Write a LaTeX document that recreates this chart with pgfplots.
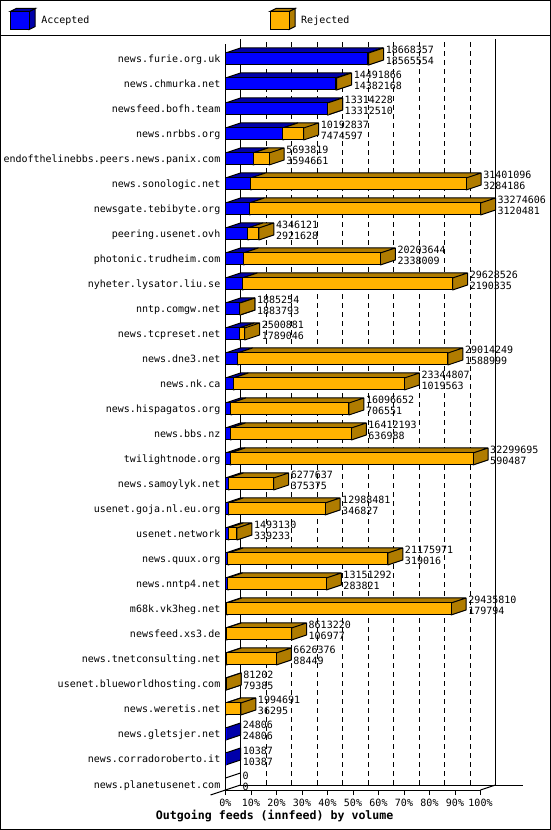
\documentclass[border=0pt]{standalone}
\usepackage{pgfplots}
\pgfplotsset{compat=1.18}
\usepackage{pgfplotstable}
\usepackage{fontspec}
\setmainfont{DejaVu Sans Mono}

\definecolor{accfront}{RGB}{0,0,255}
\definecolor{accshade}{RGB}{0,0,170}
\definecolor{rejfront}{RGB}{255,178,0}
\definecolor{rejshade}{RGB}{176,124,0}

\pgfplotstableread{
idx tot acc
29 18668357 18565554
28 14491866 14382168
27 13314228 13312510
26 10192837 7474597
25 5693819 3594661
24 31401096 3284186
23 33274606 3120481
22 4346121 2921628
21 20203644 2338009
20 29628526 2190335
19 1885254 1883793
18 2500881 1789046
17 29014249 1588999
16 23344807 1019563
15 16096652 706551
14 16412193 636988
13 32299695 590487
12 6277637 375375
11 12988481 346827
10 1493130 339233
9 21175971 319016
8 13151292 283821
7 29435810 179794
6 8613220 106977
5 6626376 88449
4 81202 79385
3 1994691 36295
2 24806 24806
1 10387 10387
0 0 0
}\feeds

\newdimen\tdL
\def\tdfront{accfront}\def\tdshade{accshade}
% a 3-D bar segment ending at the data point; its length (pt) is \seglen
\pgfdeclareplotmark{box3d}{%
  \pgfkeys{/pgf/fpu=true,/pgf/fpu/output format=fixed}%
  \pgfmathparse{\seglen}%
  \pgfkeys{/pgf/fpu=false}%
  \tdL=\pgfmathresult pt\relax
  \ifdim\tdL>0.0001pt
    \pgfsetlinewidth{1pt}\pgfsetstrokecolor{black}\pgfsetbeveljoin\pgfsetdash{}{0pt}%
    \pgfsetfillcolor{\tdshade}%
    \pgfpathmoveto{\pgfqpoint{-\tdL}{6pt}}%
    \pgfpathlineto{\pgfqpoint{0pt}{6pt}}%
    \pgfpathlineto{\pgfqpoint{15pt}{11pt}}%
    \pgfpathlineto{\pgfqpoint{\dimexpr15pt-\tdL\relax}{11pt}}%
    \pgfpathclose
    \pgfpathmoveto{\pgfqpoint{0pt}{-6pt}}%
    \pgfpathlineto{\pgfqpoint{15pt}{-1pt}}%
    \pgfpathlineto{\pgfqpoint{15pt}{11pt}}%
    \pgfpathlineto{\pgfqpoint{0pt}{6pt}}%
    \pgfpathclose
    \pgfusepath{fill,stroke}%
    \pgfsetfillcolor{\tdfront}%
    \pgfpathmoveto{\pgfqpoint{-\tdL}{-6pt}}%
    \pgfpathlineto{\pgfqpoint{0pt}{-6pt}}%
    \pgfpathlineto{\pgfqpoint{0pt}{6pt}}%
    \pgfpathlineto{\pgfqpoint{-\tdL}{6pt}}%
    \pgfpathclose
    \pgfusepath{fill,stroke}%
  \fi
}

\pgfplotsset{
  accleg/.style={legend image code/.code={%
    \filldraw[fill=accshade, draw=black, line width=1pt] (19pt,-9pt) -- (25pt,-6pt) -- (25pt,12pt) -- (19pt,9pt) -- cycle;
    \filldraw[fill=accshade, draw=black, line width=1pt] (0pt,9pt) -- (19pt,9pt) -- (25pt,12pt) -- (6pt,12pt) -- cycle;
    \filldraw[fill=accfront, draw=black, line width=1pt] (0pt,-9pt) -- (19pt,-9pt) -- (19pt,9pt) -- (0pt,9pt) -- cycle;
    \path (29pt,0pt);
  }},
  rejleg/.style={legend image code/.code={%
    \filldraw[fill=rejshade, draw=black, line width=1pt] (19pt,-9pt) -- (25pt,-6pt) -- (25pt,12pt) -- (19pt,9pt) -- cycle;
    \filldraw[fill=rejshade, draw=black, line width=1pt] (0pt,9pt) -- (19pt,9pt) -- (25pt,12pt) -- (6pt,12pt) -- cycle;
    \filldraw[fill=rejfront, draw=black, line width=1pt] (0pt,-9pt) -- (19pt,-9pt) -- (19pt,9pt) -- (0pt,9pt) -- cycle;
    \path (29pt,0pt);
  }},
  numlab/.style={draw=none, mark=none, forget plot, point meta=explicit symbolic,
    nodes near coords,
    nodes near coords style={anchor=base west, inner sep=0pt, xshift=17pt, yshift=#1, font=\fontsize{10}{12}\selectfont, text=black}},
}

\begin{document}
\begin{tikzpicture}
\begin{axis}[
  at={(225pt,40pt)}, anchor=south west,
  scale only axis, width=255pt, height=745.5pt,
  xmin=0, xmax=100, ymin=-0.24, ymax=29.58,
  enlargelimits=false, clip=false,
  axis lines*=left,
  axis line style={line width=1pt, black, -},
  tick align=outside, major tick length=5pt,
  xtick={0,10,...,100},
  xticklabels={0\%,10\%,20\%,30\%,40\%,50\%,60\%,70\%,80\%,90\%,100\%},
  xtick style={black, line width=1pt},
  ytick={0,...,29},
  yticklabels={news.planetusenet.com, news.corradoroberto.it, news.gletsjer.net, news.weretis.net, usenet.blueworldhosting.com, news.tnetconsulting.net, newsfeed.xs3.de, m68k.vk3heg.net, news.nntp4.net, news.quux.org, usenet.network, usenet.goja.nl.eu.org, news.samoylyk.net, twilightnode.org, news.bbs.nz, news.hispagatos.org, news.nk.ca, news.dne3.net, news.tcpreset.net, nntp.comgw.net, nyheter.lysator.liu.se, photonic.trudheim.com, peering.usenet.ovh, newsgate.tebibyte.org, news.sonologic.net, endofthelinebbs.peers.news.panix.com, news.nrbbs.org, newsfeed.bofh.team, news.chmurka.net, news.furie.org.uk},
  ytick style={draw=none},
  ticklabel style={font=\fontsize{10}{12}\selectfont},
  yticklabel style={anchor=base east, inner sep=0pt, xshift=0pt, yshift=-4pt},
  xticklabel style={anchor=base, inner sep=0pt, yshift=-11.5pt},
  xmajorgrids,
  major grid style={black, line width=1pt, dash pattern=on 5pt off 4pt, xshift=15pt, yshift=5pt},
  extra x ticks={0,100}, extra x tick labels={},
  extra x tick style={major tick length=0pt, grid=major, major grid style={solid}},
  xlabel={Outgoing feeds (innfeed) by volume},
  xlabel style={font=\bfseries\fontsize{11.6}{13}\selectfont, at={(axis description cs:0.193,-0.0402)}, anchor=base, inner sep=0pt},
  legend columns=2,
  legend style={at={(axis description cs:-0.859,1.0342)}, anchor=west, draw=none, fill=none, font=\fontsize{10}{12}\selectfont, /tikz/every even column/.append style={column sep=178pt}},
]
\addplot[only marks, scatter, point meta=x, mark=box3d, accleg,
  visualization depends on={\thisrow{acc}/332746.06*2.55 \as \seglen},
  execute at begin plot visualization={\gdef\tdfront{accfront}\gdef\tdshade{accshade}}]
  table[x expr=\thisrow{acc}/332746.06, y=idx] {\feeds};
\addlegendentry{Accepted}
\addplot[only marks, scatter, point meta=x, mark=box3d, rejleg,
  visualization depends on={(\thisrow{tot}-\thisrow{acc})/332746.06*2.55 \as \seglen},
  execute at begin plot visualization={\gdef\tdfront{rejfront}\gdef\tdshade{rejshade}}]
  table[x expr=\thisrow{tot}/332746.06, y=idx] {\feeds};
\addlegendentry{Rejected}
\addplot[numlab=5pt] table[x expr=\thisrow{tot}/332746.06, y=idx, meta=tot] {\feeds};
\addplot[numlab=-6pt] table[x expr=\thisrow{tot}/332746.06, y=idx, meta=acc] {\feeds};
\addplot[black, line width=1pt, mark=none, forget plot] coordinates {(5.882,-0.04) (116.86,-0.04)};
\addplot[black, line width=1pt, mark=none, forget plot] coordinates {(100,-0.24) (105.882,-0.04)};
\addplot[black, line width=1pt, mark=none, forget plot] coordinates {(-5.882,-0.44) (5.882,-0.04)};
\addplot[black, line width=1pt, mark=none, forget plot] coordinates {(0,0.24) (5.882,0.44)};
\end{axis}
\draw[line width=1pt] (0.5pt,0.5pt) -- (549.5pt,0.5pt) -- (549.5pt,829.5pt) -- (0.5pt,829.5pt) -- cycle;
\draw[line width=1pt] (0pt,794.5pt) -- (550pt,794.5pt);
\end{tikzpicture}
\end{document}
